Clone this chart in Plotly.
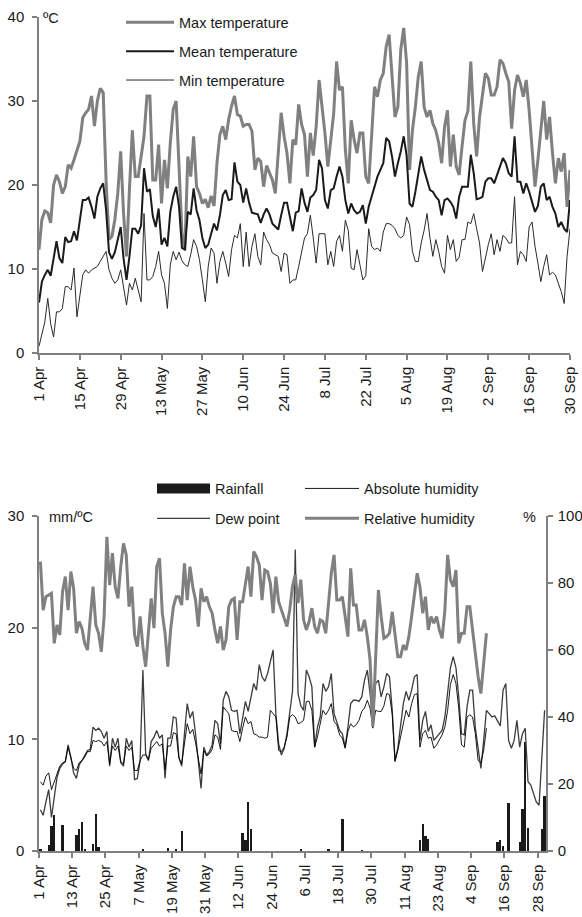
import datetime as dt
import plotly.graph_objects as go

START = dt.date(2011, 4, 1)
N_DAYS = 183
DAY_MS = 86400000

# ---- Top chart: daily temperatures (ºC), 1 Apr .. 30 Sep ----
MAX_TEMP = [
    12.3, 15.9, 16.9, 16.7, 15.5, 20.0, 21.2, 20.4, 19.0, 19.8,
    22.4, 22.0, 23.0, 24.0, 25.2, 28.0, 28.6, 29.0, 30.6, 27.0,
    30.0, 31.5, 31.0, 20.5, 13.5, 13.9, 15.9, 19.0, 24.0, 16.5,
    11.5, 19.5, 26.5, 21.0, 21.0, 23.4, 25.8, 30.6, 30.6, 20.6,
    20.6, 24.8, 17.8, 23.0, 19.6, 25.0, 29.0, 30.0, 23.0, 14.3,
    12.3, 23.4, 21.0, 25.8, 19.8, 19.0, 17.8, 18.3, 17.3, 18.7,
    17.5, 22.6, 26.0, 27.0, 25.4, 27.8, 29.4, 30.6, 28.4, 28.2,
    27.0, 27.2, 27.2, 26.4, 21.8, 23.2, 22.8, 19.8, 22.3, 21.4,
    20.6, 19.0, 24.2, 28.6, 25.8, 23.8, 20.2, 25.4, 24.8, 29.6,
    27.2, 26.0, 21.0, 26.2, 23.5, 27.0, 32.5, 29.7, 26.2, 22.2,
    25.8, 28.5, 34.7, 31.3, 31.7, 24.2, 20.2, 27.7, 25.4, 23.8,
    26.2, 26.2, 21.0, 20.2, 25.8, 31.7, 30.5, 32.5, 33.3, 36.5,
    37.9, 33.3, 28.1, 29.3, 36.1, 38.7, 34.5, 21.8, 26.5, 29.3,
    32.9, 34.7, 29.3, 28.1, 28.9, 27.3, 26.5, 25.0, 22.6, 26.9,
    28.9, 22.2, 26.0, 22.2, 21.2, 24.6, 27.7, 28.8, 34.7, 27.3,
    23.4, 28.1, 30.5, 33.3, 32.7, 30.7, 30.7, 31.7, 34.9, 34.5,
    33.3, 32.3, 26.7, 31.3, 33.1, 32.1, 30.5, 32.5, 28.9, 24.2,
    19.8, 23.0, 26.5, 30.0, 25.4, 28.1, 23.8, 20.2, 23.2, 21.6,
    23.8, 17.4, 21.8,
]
MEAN_TEMP = [
    6.0, 8.5, 9.3, 9.9, 9.2, 11.4, 13.3, 11.3, 10.7, 13.8,
    13.2, 13.3, 14.5, 13.4, 15.8, 18.2, 18.2, 18.5, 17.4, 16.0,
    18.6, 19.6, 20.2, 17.0, 12.0, 11.2, 12.0, 13.7, 15.0, 11.2,
    8.7, 11.5, 14.8, 14.8, 14.2, 15.2, 22.0, 19.2, 19.5, 16.3,
    15.0, 17.2, 12.9, 13.7, 12.7, 16.8, 18.6, 19.8, 17.4, 12.5,
    12.3, 16.8, 16.5, 19.6, 17.0, 15.8, 13.7, 12.5, 12.9, 14.2,
    15.4, 14.6, 16.4, 18.8, 19.4, 18.2, 18.3, 22.7, 20.4, 20.0,
    17.9, 19.6, 17.9, 16.7, 16.6, 16.5, 15.5, 16.5, 17.2, 16.5,
    15.4, 15.0, 14.7, 16.4, 17.9, 17.9, 16.0, 14.5, 16.7, 16.9,
    19.6, 17.9, 16.8, 18.5, 18.8, 19.4, 23.0, 22.0, 18.2, 17.2,
    19.4, 19.6, 21.0, 22.2, 21.0, 18.2, 16.6, 17.8, 17.0, 16.6,
    16.8, 17.6, 15.4, 17.4, 18.6, 19.8, 21.0, 21.8, 22.6, 25.6,
    25.2, 23.4, 21.0, 22.6, 24.0, 25.8, 23.5, 17.8, 17.4, 19.2,
    21.4, 23.4, 21.8, 20.6, 19.4, 19.2, 18.6, 18.2, 16.4, 18.2,
    18.4, 18.0, 17.4, 16.0, 18.6, 19.8, 19.8, 19.8, 23.6, 21.4,
    18.3, 18.4, 18.6, 20.4, 20.8, 20.8, 20.2, 21.2, 22.4, 23.2,
    22.6, 21.4, 21.0, 25.8, 20.4, 20.4, 19.0, 20.2, 19.2, 18.0,
    16.8, 17.5, 19.8, 20.2, 18.2, 18.6, 17.4, 16.6, 15.0, 15.6,
    14.8, 14.4, 18.2,
]
MIN_TEMP = [
    0.8, 2.3, 3.7, 6.5, 3.5, 1.9, 4.9, 4.9, 5.3, 7.9,
    7.9, 7.5, 10.1, 4.3, 7.1, 9.3, 9.9, 9.5, 9.9, 10.1,
    10.3, 10.9, 11.5, 12.1, 9.9, 8.9, 8.3, 8.7, 9.9, 7.5,
    5.7, 8.3, 7.5, 8.9, 7.5, 6.1, 16.6, 8.7, 8.7, 9.1,
    10.3, 12.1, 9.3, 8.3, 5.3, 10.5, 12.1, 11.1, 12.0, 11.0,
    10.5, 10.3, 11.7, 13.5, 12.7, 11.1, 8.7, 6.1, 10.3, 12.5,
    11.9, 8.3, 10.9, 12.1, 10.7, 9.1, 12.3, 14.0, 13.7, 15.4,
    10.3, 14.4, 10.3, 12.7, 14.2, 11.5, 10.5, 14.4, 13.5, 12.9,
    11.9, 11.7, 11.5, 9.7, 11.9, 11.7, 8.3, 8.7, 8.7, 10.3,
    11.9, 13.7, 14.2, 16.4, 13.7, 10.7, 14.2, 14.2, 14.2, 10.5,
    12.1, 10.3, 13.3, 14.0, 12.1, 15.8, 14.6, 10.1, 9.9, 12.3,
    10.5, 8.7, 9.2, 14.8, 12.7, 12.3, 12.5, 12.1, 14.4, 15.4,
    15.4, 15.2, 14.8, 14.0, 13.7, 14.0, 16.2, 15.3, 12.1, 10.9,
    10.9, 13.1, 14.6, 16.6, 13.7, 11.5, 13.5, 12.1, 10.3, 9.5,
    14.0, 12.3, 13.5, 10.9, 11.4, 13.5, 13.5, 15.6, 15.4, 16.6,
    14.8, 13.1, 9.7, 11.5, 12.9, 14.2, 11.7, 13.5, 12.1, 14.0,
    13.7, 13.1, 13.1, 18.6, 10.5, 12.1, 11.7, 10.9, 15.0, 15.6,
    12.7, 10.7, 8.5, 10.3, 11.7, 9.3, 9.6, 9.3, 8.3, 7.3,
    5.9, 11.5, 14.8,
]

# ---- Bottom chart ----
RAINFALL = [  # mm
    0.1, 0, 0, 0.5, 2.2, 3.2, 0, 0, 2.3, 0,
    0, 0, 0, 1.4, 2.0, 2.6, 0.1, 0, 0, 0.6,
    3.3, 0.4, 0, 0, 0, 0, 0, 0, 0, 0,
    0, 0, 0, 0, 0, 0, 0, 0.15, 0, 0,
    0, 0, 0, 0, 0, 0, 0.3, 0, 0, 0.15,
    0, 1.8, 0, 0, 0, 0, 0, 0, 0, 0,
    0, 0, 0, 0, 0, 0, 0, 0, 0, 0,
    0, 0, 0, 1.6, 1.0, 4.4, 2.0, 0, 0, 0,
    0, 0, 0, 0, 0, 0, 0, 0, 0, 0,
    0, 0, 0, 0, 0.1, 0, 0, 0, 0, 0,
    0, 0, 0, 0, 0.2, 0, 0, 0, 0, 2.9,
    0, 0, 0, 0, 0, 0, 0.05, 0, 0, 0,
    0, 0, 0, 0, 0, 0, 0, 0, 0, 0,
    0, 0, 0, 0, 0, 0, 0, 1.0, 2.4, 1.3,
    1.1, 0, 0, 0, 0, 0, 0, 0, 0, 0,
    0, 0, 0, 0, 0, 0, 0, 0, 0, 0,
    0, 0, 0, 0, 0, 0.8, 1.0, 0.45, 0, 4.3,
    0, 0, 0, 0.8, 3.8, 9.8, 2.1, 0, 0, 0,
    0, 2.0, 4.9,
]
DEW_POINT = [  # ºC
    3.7, 3.2, 4.4, 5.5, 3.0, 5.0, 6.6, 7.4, 7.8, 8.0,
    9.5, 8.4, 7.0, 6.5, 7.7, 8.1, 8.6, 9.0, 9.1, 11.1,
    10.8, 11.0, 10.7, 10.1, 10.7, 7.6, 10.1, 9.3, 10.1, 7.9,
    7.6, 10.1, 9.3, 9.9, 6.4, 6.5, 8.1, 16.2, 8.7, 8.1,
    9.8, 10.2, 10.8, 10.1, 10.4, 6.5, 10.1, 10.1, 12.0, 11.9,
    8.4, 7.6, 10.5, 13.2, 11.9, 12.5, 10.5, 8.1, 5.6, 9.3,
    8.6, 8.9, 9.5, 11.7, 11.4, 9.6, 13.5, 14.3, 13.8, 12.6,
    12.5, 12.6, 10.5, 11.9, 13.4, 12.5, 13.7, 15.0, 14.4, 16.7,
    15.6, 15.2, 15.9, 17.1, 18.0, 12.3, 9.6, 8.6, 9.2, 10.5,
    12.6, 14.3, 27.0, 14.1, 13.0, 12.6, 16.2, 15.6, 14.7, 9.3,
    11.1, 12.0, 15.0, 14.3, 14.7, 15.9, 12.3, 11.6, 10.8, 10.5,
    9.3, 11.1, 13.2, 13.5, 13.5, 13.4, 13.8, 15.3, 16.2, 14.1,
    11.4, 15.0, 15.3, 13.8, 14.7, 15.9, 15.6, 12.6, 8.1, 9.2,
    11.1, 13.2, 14.3, 13.5, 14.4, 15.6, 15.8, 9.9, 11.7, 12.5,
    10.7, 11.3, 9.9, 10.2, 10.4, 10.8, 12.0, 14.4, 16.4, 17.4,
    16.4, 13.8, 10.5, 10.4, 12.9, 14.4, 14.4, 11.0, 9.0, 7.4,
    9.9, 12.6, 12.3, 12.0, 12.1, 11.6, 11.2, 14.4, 15.0, 9.9,
    9.2, 9.9, 11.7, 9.3, 10.5, 11.0, 6.2, 5.9, 5.2, 4.4,
    4.1, 9.0, 12.6,
]
ABSOLUTE_HUMIDITY = [  # 1 Apr .. 9 Sep
    6.2, 5.9, 6.7, 7.0, 5.5, 6.2, 7.1, 7.6, 7.9, 8.0,
    9.3, 8.4, 7.4, 7.2, 7.9, 8.1, 8.4, 8.9, 8.9, 9.9,
    9.8, 9.9, 9.8, 9.4, 9.8, 7.8, 9.4, 9.0, 9.4, 8.0,
    7.8, 9.4, 9.0, 9.3, 7.2, 7.2, 8.1, 8.6, 8.6, 8.2,
    9.2, 9.5, 9.8, 9.4, 9.6, 7.3, 9.4, 9.4, 10.6, 10.5,
    8.3, 7.8, 9.7, 11.4, 10.5, 10.9, 9.7, 8.1, 6.9, 9.0,
    8.5, 8.7, 9.1, 10.4, 10.2, 9.1, 12.9, 12.6, 12.3, 10.8,
    10.7, 10.7, 9.8, 11.0, 12.0, 11.4, 11.6, 10.5, 10.4, 10.2,
    10.2, 10.1, 10.2, 12.6, 12.3, 12.0, 9.0, 8.9, 9.3, 10.2,
    12.0, 12.2, 12.0, 11.4, 11.5, 11.7, 13.4, 13.4, 12.6, 9.3,
    10.2, 11.4, 12.6, 12.2, 12.6, 13.2, 11.6, 11.3, 10.4, 10.1,
    9.2, 10.7, 11.4, 11.1, 11.3, 11.7, 12.5, 12.8, 13.5, 12.8,
    11.0, 12.6, 12.5, 12.5, 13.0, 14.1, 14.0, 12.2, 8.0, 9.0,
    10.2, 11.7, 12.6, 12.0, 13.2, 14.0, 14.1, 9.3, 10.5, 10.8,
    10.1, 10.2, 9.2, 9.5, 9.9, 10.4, 11.1, 12.6, 14.9, 15.8,
    15.0, 12.8, 9.5, 9.3, 12.0, 12.2, 12.0, 10.5, 8.1, 7.9,
    9.0, 11.0,
]
RELATIVE_HUMIDITY = [  # %, 1 Apr .. 9 Sep
    86.4, 71.9, 75.9, 76.4, 76.9, 62.0, 67.5, 64.5, 77.4, 81.9,
    71.9, 83.4, 78.4, 65.0, 68.5, 66.5, 62.0, 60.0, 69.0, 78.9,
    67.5, 65.0, 59.5, 70.0, 93.8, 79.4, 88.9, 78.9, 75.4, 84.9,
    91.8, 88.4, 72.9, 78.9, 64.5, 61.0, 70.0, 61.0, 55.0, 64.0,
    75.4, 66.5, 84.9, 87.4, 71.0, 65.0, 55.0, 66.0, 72.9, 75.9,
    75.9, 73.4, 85.9, 74.9, 84.9, 78.9, 74.9, 67.0, 78.4, 74.4,
    75.9, 72.9, 71.0, 66.0, 62.0, 67.0, 60.0, 63.0, 72.9, 74.9,
    75.4, 63.0, 74.4, 74.4, 79.4, 84.9, 75.9, 89.4, 87.9, 85.4,
    74.9, 83.9, 83.4, 79.9, 71.0, 81.9, 74.4, 71.9, 69.0, 67.0,
    72.0, 79.0, 82.5, 74.0, 81.0, 69.0, 66.0, 68.5, 72.5, 67.0,
    65.0, 69.0, 68.5, 65.0, 73.9, 82.9, 88.4, 74.9, 74.9, 75.9,
    70.0, 64.0, 84.4, 73.4, 73.4, 66.0, 66.0, 69.0, 64.0, 57.0,
    37.0, 55.0, 77.9, 70.0, 63.5, 64.0, 65.0, 71.4, 64.0, 58.0,
    58.0, 61.5, 60.0, 64.0, 70.0, 75.9, 82.9, 78.9, 71.0, 75.9,
    66.0, 70.0, 68.0, 70.0, 66.0, 63.5, 71.9, 88.4, 80.9, 78.9,
    83.9, 62.0, 65.0, 65.0, 72.9, 72.9, 66.0, 58.0, 52.0, 47.0,
    57.0, 65.0,
]

TOP_TICK_LABELS = ["1 Apr", "15 Apr", "29 Apr", "13 May", "27 May", "10 Jun", "24 Jun",
                   "8 Jul", "22 Jul", "5 Aug", "19 Aug", "2 Sep", "16 Sep", "30 Sep"]
BOTTOM_TICK_LABELS = ["1 Apr", "13 Apr", "25 Apr", "7 May", "19 May", "31 May", "12 Jun",
                      "24 Jun", "6 Jul", "18 Jul", "30 Jul", "11 Aug", "23 Aug", "4 Sep",
                      "16 Sep", "28 Sep"]

dates = [(START + dt.timedelta(days=i)).isoformat() for i in range(N_DAYS)]
end_bottom = (START + dt.timedelta(days=N_DAYS)).isoformat()

W, H = 582, 917
FONT = "Liberation Sans, Arial, Helvetica, sans-serif"
GRAY = "#808080"
DARK = "#1a1a1a"


def px_x(p):
    return p / W


def px_y(p):
    return 1 - p / H


fig = go.Figure()

# top chart
fig.add_trace(go.Scatter(x=dates, y=MAX_TEMP, name="Max temperature", mode="lines",
                         line=dict(color=GRAY, width=3), xaxis="x", yaxis="y",
                         legend="legend", legendgroup="a"))
fig.add_trace(go.Scatter(x=dates, y=MEAN_TEMP, name="Mean temperature", mode="lines",
                         line=dict(color=DARK, width=2), xaxis="x", yaxis="y",
                         legend="legend", legendgroup="b"))
fig.add_trace(go.Scatter(x=dates, y=MIN_TEMP, name="Min temperature", mode="lines",
                         line=dict(color="#2a2a2a", width=1), xaxis="x", yaxis="y",
                         legend="legend", legendgroup="c"))

# bottom chart
fig.add_trace(go.Bar(x=dates, y=RAINFALL, name="Rainfall", marker=dict(color=DARK, line=dict(width=0)),
                     width=0.85 * DAY_MS, xperiod=DAY_MS, xperiodalignment="middle",
                     xaxis="x2", yaxis="y2", showlegend=False))
fig.add_trace(go.Scatter(x=[dates[0]], y=[None], name="Rainfall", mode="lines",
                         line=dict(color=DARK, width=10), xaxis="x2", yaxis="y2",
                         legend="legend2", legendgroup="r", hoverinfo="skip"))
fig.add_trace(go.Scatter(x=dates, y=DEW_POINT, name="Dew point", mode="lines",
                         line=dict(color="#3c3c3c", width=1.3), xaxis="x2", yaxis="y2",
                         xperiod=DAY_MS, xperiodalignment="middle",
                         legend="legend2", legendgroup="d"))
fig.add_trace(go.Scatter(x=dates[:len(ABSOLUTE_HUMIDITY)], y=ABSOLUTE_HUMIDITY, name="Absolute humidity",
                         mode="lines", line=dict(color="#000000", width=0.9), xaxis="x2", yaxis="y2",
                         xperiod=DAY_MS, xperiodalignment="middle",
                         legend="legend3", legendgroup="e"))
fig.add_trace(go.Scatter(x=dates[:len(RELATIVE_HUMIDITY)], y=RELATIVE_HUMIDITY, name="Relative humidity",
                         mode="lines", line=dict(color=GRAY, width=3), xaxis="x2", yaxis="y3",
                         xperiod=DAY_MS, xperiodalignment="middle",
                         legend="legend3", legendgroup="f"))

TICKFONT = dict(family=FONT, size=15, color=DARK)
axis_common = dict(showline=True, linecolor=GRAY, linewidth=1.5, ticks="outside", ticklen=5,
                   tickwidth=1.5, tickcolor=GRAY, showgrid=False, zeroline=False,
                   tickfont=TICKFONT, automargin=False)
x_common = dict(type="date", tickangle=-90, ticklabelstandoff=1, **axis_common)
LEGFONT = dict(family=FONT, size=14.5, color=DARK)


def legend_box(x_px, y_px, item_w, gap):
    return dict(orientation="v", bgcolor="rgba(0,0,0,0)", borderwidth=0, font=LEGFONT,
                tracegroupgap=gap, itemwidth=item_w, xanchor="left", yanchor="top",
                traceorder="grouped", x=px_x(x_px), y=px_y(y_px))


fig.update_layout(
    width=W, height=H, autosize=False,
    margin=dict(l=0, r=0, t=0, b=0, pad=0, autoexpand=False),
    paper_bgcolor="white", plot_bgcolor="white",
    font=dict(family=FONT, size=14.5, color=DARK),
    bargap=0,
    xaxis=dict(domain=[px_x(39), px_x(570)], anchor="y",
               range=[dates[0], dates[-1]], tickvals=dates[::14], ticktext=TOP_TICK_LABELS,
               **x_common),
    yaxis=dict(domain=[px_y(353), px_y(17)], anchor="x", range=[0, 40], tickvals=[0, 10, 20, 30, 40],
               ticklabelstandoff=5, **axis_common),
    xaxis2=dict(domain=[px_x(39), px_x(546)], anchor="y2",
                range=[dates[0], end_bottom], tickvals=dates[::12], ticktext=BOTTOM_TICK_LABELS,
                **x_common),
    yaxis2=dict(domain=[px_y(851), px_y(516)], anchor="x2", range=[0, 30], tickvals=[0, 10, 20, 30],
                ticklabelstandoff=5, **axis_common),
    yaxis3=dict(overlaying="y2", anchor="x2", side="right", range=[0, 100],
                tickvals=[0, 20, 40, 60, 80, 100], ticklabelstandoff=2, **axis_common),
    legend=legend_box(121, 6.4, 48, 7),
    legend2=legend_box(152, 472.5, 53, 8),
    legend3=legend_box(300, 472.5, 54, 8),
    annotations=[
        dict(text="ºC", x=px_x(40.6), y=px_y(18), xref="paper", yref="paper", xanchor="left",
             yanchor="middle", showarrow=False, font=LEGFONT),
        dict(text="mm/ºC", x=px_x(46.6), y=px_y(517), xref="paper", yref="paper", xanchor="left",
             yanchor="middle", showarrow=False, font=LEGFONT),
        dict(text="%", x=px_x(538.4), y=px_y(517), xref="paper", yref="paper", xanchor="right",
             yanchor="middle", showarrow=False, font=LEGFONT),
    ],
    showlegend=True,
)

# the page is exactly the 582x917 window: drop the browser's default body margin
fig.write_html("out.html", config={"displayModeBar": False},
               post_script="document.body.style.margin='0';")
